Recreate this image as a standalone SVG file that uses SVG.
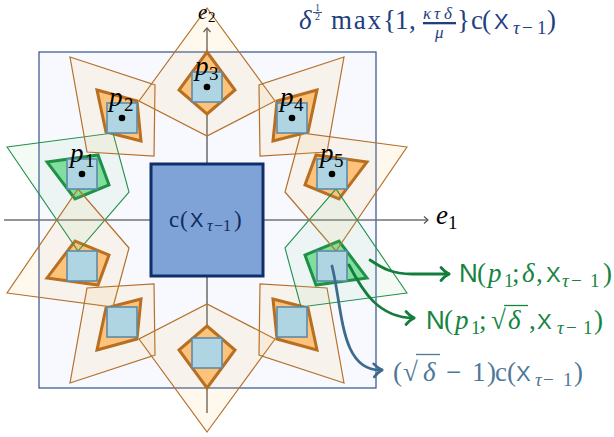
<svg xmlns="http://www.w3.org/2000/svg" width="614" height="437" viewBox="0 0 614 437">
<defs>
<style>
.m{font-family:"Liberation Serif","DejaVu Serif",serif;font-size:27px}
.i{font-style:italic}
.sub{font-size:19px}
.fr{font-size:17px}
.sf{font-family:"Liberation Sans","DejaVu Sans",sans-serif}
.sm{stroke-width:3;stroke-linejoin:miter}
.so{fill:#fec47f;stroke:#b0671c}
.sg{fill:#7fdfa0;stroke:#128a3e}
.bo{fill:#ffbd4a;fill-opacity:0.1;stroke:#b5702a;stroke-width:1.2}
.bg{fill:#8fdc9c;fill-opacity:0.1;stroke:#1f8f4a;stroke-width:1.1}
.sq{fill:#afd5e3;stroke:#5d8aa8;stroke-width:1.6}
.ax{stroke:#727272;stroke-width:1.6;fill:none}
</style>
<marker id="axh" markerUnits="userSpaceOnUse" markerWidth="12" markerHeight="12" viewBox="-6 -6 12 12" refX="0" refY="0" orient="auto">
<path d="M-4,-3.5 L0,0 L-4,3.5" fill="none" stroke="#555" stroke-width="1.2"/>
</marker>
<marker id="ahg" markerUnits="userSpaceOnUse" markerWidth="24" markerHeight="24" viewBox="-12 -12 24 24" refX="0" refY="0" orient="auto">
<path d="M-8,-6.5 C-5,-3 -2,-1 0,0 C-2,1 -5,3 -8,6.5" fill="none" stroke="#137d3c" stroke-width="2.8" stroke-linecap="round" stroke-linejoin="round"/>
</marker>
<marker id="ahb" markerUnits="userSpaceOnUse" markerWidth="24" markerHeight="24" viewBox="-12 -12 24 24" refX="0" refY="0" orient="auto">
<path d="M-8,-6.5 C-5,-3 -2,-1 0,0 C-2,1 -5,3 -8,6.5" fill="none" stroke="#3d6b8c" stroke-width="2.8" stroke-linecap="round" stroke-linejoin="round"/>
</marker>
</defs>

<rect id="domain" x="39" y="52" width="337" height="336" fill="#f7f9fe" stroke="#31518c" stroke-width="1.2"/>

<g id="axes">
<path class="ax" d="M4,220 L428,220" marker-end="url(#axh)"/>
<path class="ax" d="M207,413 L207,28" marker-end="url(#axh)"/>
</g>

<g id="small-neighbourhoods" class="sm">
<polygon id="s-p1" class="sg" points="47,162 98,155 109,185 75,199"/>
<polygon id="s-p2" class="so" points="97,90 137,101 141,141 106,132"/>
<polygon id="s-p3" class="so" points="207,52 235,90 207,114 179,90"/>
<polygon id="s-p4" class="so" points="317,90 277,101 273,141 308,132"/>
<polygon id="s-p5" class="so" points="367,162 316,155 305,185 339,199"/>
<polygon id="s-q1" class="so" points="47,278 98,285 109,255 75,241"/>
<polygon id="s-q2" class="so" points="97,350 137,339 141,299 106,308"/>
<polygon id="s-q3" class="so" points="207,388 235,350 207,326 179,350"/>
<polygon id="s-q4" class="so" points="317,350 277,339 273,299 308,308"/>
<polygon id="s-q5" class="sg" points="367,278 316,285 305,255 339,241"/>
</g>

<g id="large-neighbourhoods">
<polygon id="b-p1" class="bg" points="7,147 113,133 129,192 78,251"/>
<polygon id="b-p2" class="bo" points="70,57 155,85 154,156 87,152"/>
<polygon id="b-p3" class="bo" points="207,8 275,101 207,136 139,101"/>
<polygon id="b-p4" class="bo" points="344,57 259,85 260,156 327,152"/>
<polygon id="b-p5" class="bo" points="407,147 301,133 285,192 336,251"/>
<polygon id="b-q1" class="bo" points="7,293 113,307 129,248 78,189"/>
<polygon id="b-q2" class="bo" points="70,383 155,355 154,284 87,288"/>
<polygon id="b-q3" class="bo" points="207,432 275,339 207,304 139,339"/>
<polygon id="b-q4" class="bo" points="344,383 259,355 260,284 327,288"/>
<polygon id="b-q5" class="bg" points="407,293 301,307 285,248 336,189"/>
</g>

<g id="center">
<rect x="151" y="164" width="112" height="112" fill="#7fa3d6" stroke="#0f2f6b" stroke-width="3"/>
<g fill="#102b5f" class="m" style="font-size:23px">
<text x="169" y="227">c</text>
<text x="180" y="227">(</text>
<text x="190" y="227" class="sf" style="font-size:20px">X</text>
<text x="207" y="231" class="i" style="font-size:16px">τ</text>
<text x="214" y="231" style="font-size:16px">−1</text>
<text x="234" y="227">)</text>
</g>
</g>

<g id="p1"><rect class="sq" x="67" y="159" width="30" height="30"/><circle cx="82" cy="174" r="3.3"/>
<text class="m i" x="70" y="162">p</text><text class="m sub" x="85" y="167">1</text></g>
<g id="p2"><rect class="sq" x="107" y="103" width="30" height="30"/><circle cx="122" cy="118" r="3.3"/>
<text class="m i" x="109" y="106">p</text><text class="m sub" x="124" y="111">2</text></g>
<g id="p3"><rect class="sq" x="192" y="72" width="30" height="30"/><circle cx="207" cy="87" r="3.3"/>
<text class="m i" x="195" y="75">p</text><text class="m sub" x="209" y="80">3</text></g>
<g id="p4"><rect class="sq" x="277" y="103" width="30" height="30"/><circle cx="292" cy="118" r="3.3"/>
<text class="m i" x="280" y="106">p</text><text class="m sub" x="294" y="111">4</text></g>
<g id="p5"><rect class="sq" x="317" y="159" width="30" height="30"/><circle cx="332" cy="174" r="3.3"/>
<text class="m i" x="320" y="162">p</text><text class="m sub" x="334" y="167">5</text></g>
<g id="q1"><rect class="sq" x="67" y="251" width="30" height="30"/></g>
<g id="q2"><rect class="sq" x="107" y="307" width="30" height="30"/></g>
<g id="q3"><rect class="sq" x="192" y="338" width="30" height="30"/></g>
<g id="q4"><rect class="sq" x="277" y="307" width="30" height="30"/></g>
<g id="q5"><rect class="sq" x="317" y="251" width="30" height="30"/></g>

<g id="axis-labels" class="m">
<text class="i" x="436" y="224">e</text><text class="sub" x="448" y="229">1</text>
<text class="i" x="198" y="18.7" style="font-size:21px">e</text><text class="sub" x="208" y="22" style="font-size:15px">2</text>
</g>

<g id="connectors" fill="none" stroke-width="2.8" stroke-linecap="round">
<path d="M370,260 C382,268 392,274 412,274 L449,274" stroke="#137d3c" marker-end="url(#ahg)"/>
<path d="M349,265 C362,290 378,318 414,318" stroke="#137d3c" marker-end="url(#ahg)"/>
<path d="M332,266 C343,310 340,372 382,370" stroke="#3d6b8c" marker-end="url(#ahb)"/>
</g>

<g id="label-N-delta" class="m" fill="#16843f">
<text class="sf" style="font-size:26px" x="459" y="282">N</text>
<text x="477" y="282">(</text>
<text class="i" x="488" y="282">p</text>
<text class="sub" x="504" y="287">1</text>
<text x="512" y="282">;</text>
<text class="i" x="522" y="282">δ</text>
<text x="536" y="282">,</text>
<text class="sf" style="font-size:22px" x="546" y="282">X</text>
<text class="sub i" x="562" y="287">τ</text>
<text class="sub" x="571" y="287">−</text>
<text class="sub" x="590" y="287">1</text>
<text x="603" y="282">)</text>
</g>

<g id="label-N-sqrtdelta" class="m" fill="#16843f">
<text class="sf" style="font-size:26px" x="426" y="329">N</text>
<text x="444" y="329">(</text>
<text class="i" x="455" y="329">p</text>
<text class="sub" x="471" y="334">1</text>
<text x="479" y="329">;</text>
<text x="491" y="329">√</text>
<line x1="504" y1="305.5" x2="528" y2="305.5" stroke="#16843f" stroke-width="1.3"/>
<text class="i" x="508" y="329">δ</text>
<text x="529" y="329">,</text>
<text class="sf" style="font-size:22px" x="537" y="329">X</text>
<text class="sub i" x="557" y="334">τ</text>
<text class="sub" x="566" y="334">−</text>
<text class="sub" x="583" y="334">1</text>
<text x="594" y="329">)</text>
</g>

<g id="label-scale" class="m" fill="#4e7898">
<text x="393" y="381">(</text>
<text x="403" y="381">√</text>
<line x1="416" y1="354.5" x2="440" y2="354.5" stroke="#4e7898" stroke-width="1.3"/>
<text class="i" x="423" y="381">δ</text>
<text x="446" y="381">−</text>
<text x="472" y="381">1</text>
<text x="487" y="381">)</text>
<text x="495" y="381">c</text>
<text x="507" y="381">(</text>
<text class="sf" style="font-size:22px" x="516" y="381">X</text>
<text class="sub i" x="535" y="386">τ</text>
<text class="sub" x="543" y="386">−</text>
<text class="sub" x="563" y="386">1</text>
<text x="574" y="381">)</text>
</g>

<g id="title" class="m" fill="#1f3f7f">
<text class="i" x="299" y="29">δ</text>
<text x="315" y="10.5" style="font-size:10px">1</text>
<line x1="313" y1="12.5" x2="322" y2="12.5" stroke="#1f3f7f" stroke-width="0.9"/>
<text x="315" y="20" style="font-size:10px">2</text>
<text x="331" y="29" textLength="50" lengthAdjust="spacing">max</text>
<text x="383" y="29">{</text>
<text x="395" y="29">1</text>
<text x="409" y="29">,</text>
<text class="fr i" x="423" y="19">κ</text>
<text class="fr i" x="434" y="19">τ</text>
<text class="fr i" x="444" y="19">δ</text>
<rect x="423" y="22" width="33" height="2.3"/>
<text class="fr i" x="435" y="38">μ</text>
<text x="457" y="29">}</text>
<text x="471" y="29">c</text>
<text x="482" y="29">(</text>
<text class="sf" style="font-size:22px" x="494" y="29">X</text>
<text class="sub i" x="513" y="34">τ</text>
<text class="sub" x="522" y="34">−</text>
<text class="sub" x="537" y="34">1</text>
<text x="547" y="29">)</text>
</g>
</svg>
